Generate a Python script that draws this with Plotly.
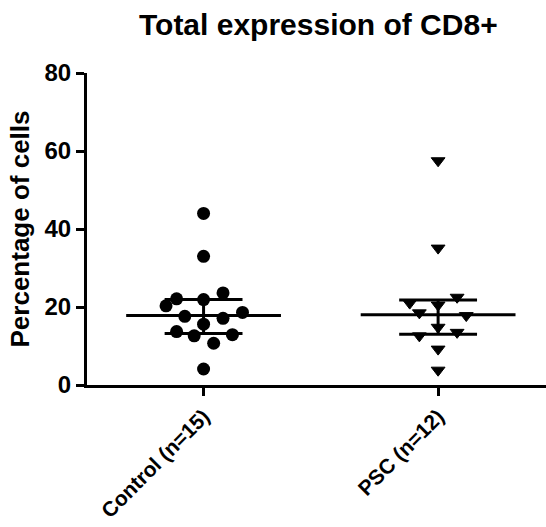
import plotly.graph_objects as go

# ---- data ----
categories = ["Control (n=15)", "PSC (n=12)"]

control_values = [44.0, 33.0, 23.6, 22.1, 21.9, 20.3, 18.6, 17.6, 17.1, 15.6, 13.7, 12.6, 12.9, 10.7, 4.1]
control_jitter = [0, 0, 0.083, -0.115, 0, -0.16, 0.166, -0.08, 0.083, 0, -0.115, -0.04, 0.123, 0.043, 0]

psc_values = [57.5, 35.1, 22.5, 21.0, 20.5, 18.5, 17.8, 14.8, 12.6, 13.5, 9.2, 3.8]
psc_jitter = [0, 0, 0.081, -0.121, 0, -0.08, 0.12, 0, -0.08, 0.081, 0, 0]

medians = [17.8, 18.0]
q1 = [13.2, 13.0]
q3 = [21.9, 21.8]

y_ticks = [0, 20, 40, 60, 80]

# ---- styling ----
MED_HALF = 0.33
CAP_HALF = 0.166
LINE_W = 3

fig = go.Figure()

groups = [
    (0, control_values, control_jitter, "circle", 13, 0),
    (1, psc_values, psc_jitter, "triangle-down", 12, 1),
]
for pos, vals, jit, sym, size, lw in groups:
    fig.add_trace(go.Scatter(
        x=[pos + j for j in jit], y=vals, mode="markers",
        marker=dict(symbol=sym, size=size, color="black",
                    line=dict(color="black", width=lw)),
        showlegend=False, hoverinfo="y"))

for i in range(len(categories)):
    # median line
    fig.add_trace(go.Scatter(
        x=[i - MED_HALF, i + MED_HALF], y=[medians[i], medians[i]],
        mode="lines", line=dict(color="black", width=LINE_W),
        showlegend=False, hoverinfo="skip"))
    # IQR vertical + caps
    fig.add_trace(go.Scatter(
        x=[i, i, None, i - CAP_HALF, i + CAP_HALF, None, i - CAP_HALF, i + CAP_HALF],
        y=[q1[i], q3[i], None, q1[i], q1[i], None, q3[i], q3[i]],
        mode="lines", line=dict(color="black", width=LINE_W),
        showlegend=False, hoverinfo="skip"))

font_family = "Liberation Sans, Arial, Helvetica, sans-serif"

fig.update_layout(
    width=546, height=527,
    margin=dict(l=87, r=0, t=73, b=142),
    paper_bgcolor="white", plot_bgcolor="white",
    font=dict(family=font_family, color="black", size=21, weight="bold"),
    title=dict(text="Total expression of CD8+", x=0.583, xanchor="center",
               y=0.9526, yanchor="middle",
               font=dict(size=30, family=font_family, color="black", weight="bold")),
)

fig.update_xaxes(
    range=[-0.497, 1.46], tickmode="array", tickvals=[0, 1], ticktext=categories,
    tickangle=-45, ticks="outside", ticklen=8, tickwidth=LINE_W, tickcolor="black",
    showline=True, linecolor="black", linewidth=LINE_W, showgrid=False, zeroline=False,
    automargin=False,
    tickfont=dict(size=21, family=font_family, color="black", weight="bold"),
)
fig.update_yaxes(
    range=[0, 80], tickmode="array", tickvals=y_ticks,
    ticks="outside", ticklen=8, tickwidth=LINE_W, tickcolor="black",
    showline=True, linecolor="black", linewidth=LINE_W, showgrid=False, zeroline=False,
    automargin=False,
    tickfont=dict(size=24, family=font_family, color="black", weight="bold"),
    title=dict(text="Percentage of cells", standoff=8,
               font=dict(size=26, family=font_family, color="black", weight="bold")),
)

fig.write_html("out.html")
